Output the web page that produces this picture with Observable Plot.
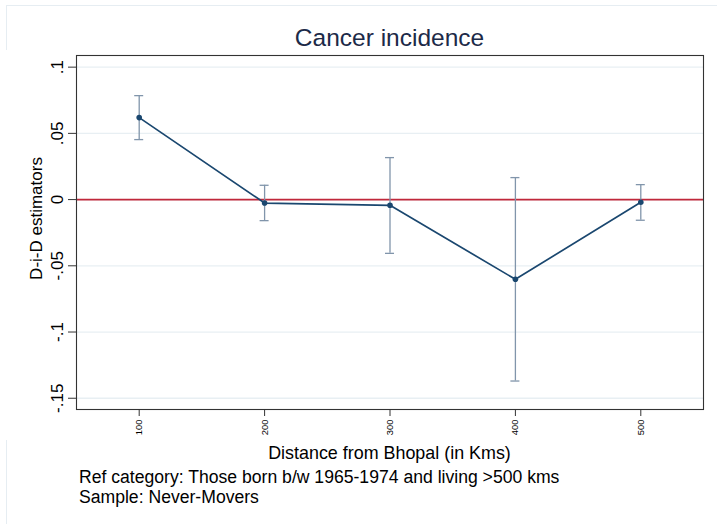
<!DOCTYPE html>
<html>
<head>
<meta charset="utf-8">
<script src="https://cdn.jsdelivr.net/npm/d3@7"></script>
<script src="https://cdn.jsdelivr.net/npm/@observablehq/plot@0.6"></script>
<style>
  html, body { margin: 0; padding: 0; background: #fff; }
  #wrap { position: relative; width: 717px; height: 524px; overflow: hidden; background: #fff;
          font-family: "Liberation Sans", Arial, Helvetica, sans-serif; color: #000; }
  .abs { position: absolute; white-space: nowrap; }
  #title { left: 76px; width: 627px; top: 24.3px; text-align: center; font-size: 24.5px; line-height: 1.117; color: #1c2a48; }
  #xtitle { left: 76px; width: 627px; top: 443.3px; text-align: center; font-size: 17.9px; line-height: 1.117; }
  .cap { left: 79px; font-size: 17.6px; line-height: 1.117; }
  #cap1 { top: 467.7px; }
  #cap2 { top: 487.5px; }
  #chart { position: absolute; left: 0; top: 50px; }
  .bt { position: absolute; left: 6px; top: 5px; width: 711px; height: 1px; background: #e6edf2; }
  .bl { position: absolute; left: 6px; top: 5px; width: 1px; height: 519px; background: #e6edf2; }
</style>
</head>
<body>
<div id="wrap">
  <div class="bt"></div>
  <div class="bl"></div>
  <div id="title" class="abs">Cancer incidence</div>
  <div id="chart"></div>
  <div id="xtitle" class="abs">Distance from Bhopal (in Kms)</div>
  <div id="cap1" class="abs cap">Ref category: Those born b/w 1965-1974 and living &gt;500 kms</div>
  <div id="cap2" class="abs cap">Sample: Never-Movers</div>
</div>
<script>
const distances = [100, 200, 300, 400, 500];
const estimates = [0.0619, -0.0026, -0.0043, -0.0602, -0.0020];
const ciLower   = [0.0453, -0.0159, -0.0406, -0.1370, -0.0156];
const ciUpper   = [0.0785, 0.0108, 0.0317, 0.0166, 0.0113];
const yTicks = [0.1, 0.05, 0, -0.05, -0.1, -0.15];
const yTickLabels = [".1", ".05", "0", "-.05", "-.1", "-.15"];
const xTicks = [100, 200, 300, 400, 500];
const xTickLabels = ["100", "200", "300", "400", "500"];
const yLabel = "D-i-D estimators";
const xDomain = [50, 550];
const yDomain = [-0.1585, 0.1088];

const data = distances.map((x, i) => ({x, est: estimates[i], lo: ciLower[i], hi: ciUpper[i]}));

const navy = "#1a476f";
const ciColor = "#8195ab";

const chart = Plot.plot({
  width: 717,
  height: 390,
  marginTop: 5,
  marginBottom: 31,
  marginLeft: 76,
  marginRight: 14,
  style: {fontFamily: "'Liberation Sans', Arial, Helvetica, sans-serif", background: "#fff", overflow: "visible"},
  x: {domain: xDomain, axis: null},
  y: {domain: yDomain, axis: null},
  marks: [
    Plot.ruleY(yTicks, {y: d => d, stroke: "#e8eff3", strokeWidth: 1.3}),
    Plot.ruleY([0], {stroke: "#c0283b", strokeWidth: 1.6}),
    Plot.ruleX(data, {x: "x", y1: "lo", y2: "hi", stroke: ciColor, strokeWidth: 1.3}),
    Plot.ruleY(data, {y: "hi", x1: "x", x2: "x", insetLeft: -4.5, insetRight: -4.5, stroke: ciColor, strokeWidth: 1.3}),
    Plot.ruleY(data, {y: "lo", x1: "x", x2: "x", insetLeft: -4.5, insetRight: -4.5, stroke: ciColor, strokeWidth: 1.3}),
    Plot.line(data, {x: "x", y: "est", stroke: navy, strokeWidth: 1.7}),
    Plot.dot(data, {x: "x", y: "est", r: 2.8, fill: navy, stroke: "none"}),
    Plot.frame({stroke: "#333", strokeWidth: 1.1}),
    Plot.ruleY(yTicks, {y: d => d, x1: xDomain[0], x2: xDomain[0], insetLeft: -8, stroke: "#333", strokeWidth: 1}),
    Plot.text(yTicks, {y: d => d, frameAnchor: "left", text: (d, i) => yTickLabels[i], rotate: -90,
      textAnchor: "middle", lineAnchor: "bottom", dx: -13.5, fontSize: 17, fill: "#000"}),
    Plot.ruleX(xTicks, {x: d => d, y1: yDomain[0], y2: yDomain[0], insetBottom: -7, stroke: "#333", strokeWidth: 1}),
    Plot.text(xTicks, {x: d => d, frameAnchor: "bottom", text: (d, i) => xTickLabels[i], rotate: -90,
      textAnchor: "end", lineAnchor: "middle", dy: 10, fontSize: 9.4, fill: "#000"}),
    Plot.text([yLabel], {frameAnchor: "left", rotate: -90, textAnchor: "middle", lineAnchor: "bottom",
      dx: -34.3, dy: -14, fontSize: 17, fill: "#000"})
  ]
});
document.getElementById("chart").appendChild(chart);
</script>
</body>
</html>
